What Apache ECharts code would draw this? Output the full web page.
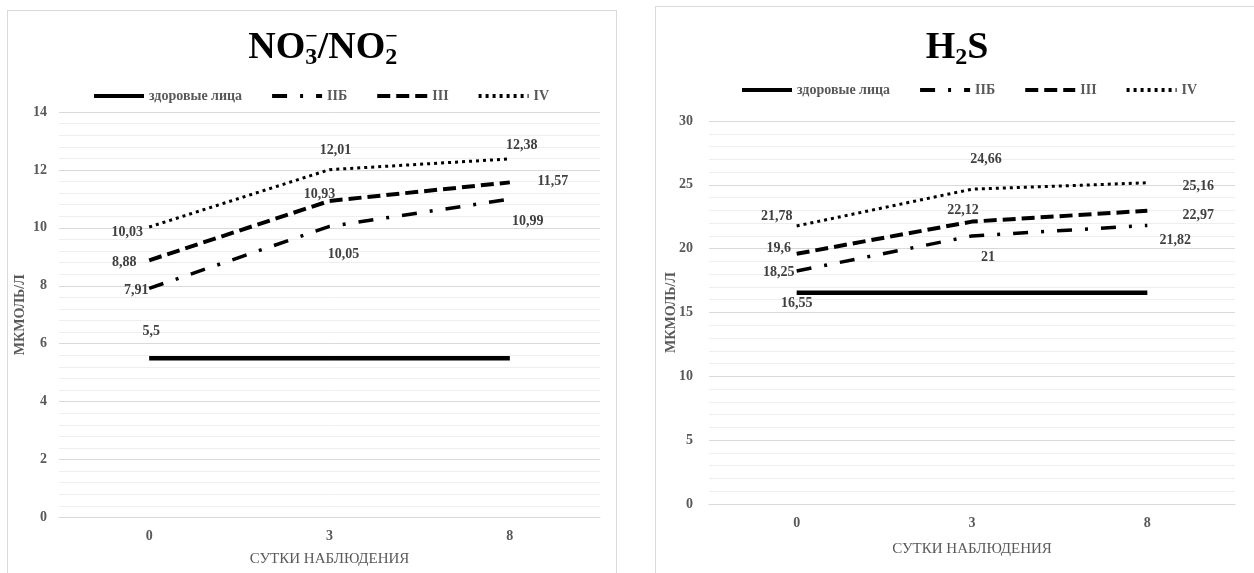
<!DOCTYPE html>
<html>
<head>
<meta charset="utf-8">
<script src="https://cdn.jsdelivr.net/npm/echarts@6/dist/echarts.min.js"></script>
<style>
  html, body { margin: 0; padding: 0; width: 1254px; height: 573px; overflow: hidden; background: #fff; }
  .panel { position: absolute; box-sizing: border-box; border: 1px solid #d9d9d9; background: #fff; }
  #c1 { left: 7px; top: 10px; width: 610px; height: 600px; }
  #c2 { left: 655px; top: 6px; width: 620px; height: 600px; }
</style>
</head>
<body>
<div id="c1" class="panel"></div>
<div id="c2" class="panel"></div>
<script>
// ---- data ----
const categories = ['0', '3', '8'];
const seriesNames = ['здоровые лица', 'IIБ', 'III', 'IV'];
const xAxisName = 'СУТКИ НАБЛЮДЕНИЯ';
const yAxisName = 'МКМОЛЬ/Л';

const noHealthy = [5.5, 5.5, 5.5];
const noIIB = [7.91, 10.05, 10.99];
const noIII = [8.88, 10.93, 11.57];
const noIV = [10.03, 12.01, 12.38];

const h2sHealthy = [16.55, 16.55, 16.55];
const h2sIIB = [18.25, 21, 21.82];
const h2sIII = [19.6, 22.12, 22.97];
const h2sIV = [21.78, 24.66, 25.16];

// ---- label placement (layout only) ----
const noLabelOffsets = [
  [[2, -27], null, null],
  [[-13, 2], [14, 28], [18, 22]],
  [[-25, 2], [-10, -7], [43, -1]],
  [[-22, 5], [6, -19], [12, -14]]
];
const h2sLabelOffsets = [
  [[0, 11], null, null],
  [[-18, 1], [16, 21], [28, 15]],
  [[-18, -5], [-9, -11], [51, 5]],
  [[-20, -10], [14, -30], [51, 4]]
];

const FONT = "'Liberation Serif', 'Times New Roman', serif";
const lineStyles = [
  { width: 4.5, type: 'solid' },
  { width: 3.5, type: [15, 13, 3, 13] },
  { width: 4, type: [13, 6] },
  { width: 3, type: [3, 4] }
];

function fmt(v) { return String(v).replace('.', ','); }

function buildSeries(valueSets, offsets) {
  return valueSets.map((vals, si) => ({
    name: seriesNames[si],
    type: 'line',
    symbol: 'circle',
    symbolSize: 1,
    itemStyle: { color: 'rgba(0,0,0,0)' },
    lineStyle: Object.assign({ color: '#000' }, lineStyles[si]),
    emphasis: { disabled: true },
    z: 2 + si,
    data: vals.map((v, i) => {
      const off = offsets[si][i];
      return {
        value: v,
        label: off ? {
          show: true, position: 'inside', offset: off,
          formatter: p => fmt(p.value),
          color: '#404040', fontFamily: FONT, fontWeight: 'bold', fontSize: 14
        } : { show: false }
      };
    })
  }));
}

function buildOption(cfg) {
  return {
    animation: false,
    title: {
      text: cfg.title,
      left: cfg.titleX,
      top: cfg.titleTop,
      textAlign: 'center',
      textStyle: {
        rich: {
          a: { fontFamily: FONT, fontWeight: 'bold', fontSize: 38, color: '#000', lineHeight: 44 },
          b: { fontFamily: FONT, fontWeight: 'bold', fontSize: 24, color: '#000', verticalAlign: 'bottom', lineHeight: 22 },
          c: { fontFamily: FONT, fontWeight: 'bold', fontSize: 22, color: '#000', verticalAlign: 'top', lineHeight: 16, padding: [0, 0, 0, -12] }
        }
      }
    },
    legend: {
      data: seriesNames,
      left: cfg.legendLeft,
      top: cfg.legendTop,
      itemWidth: 50,
      itemHeight: 4,
      itemGap: 28,
      selectedMode: false,
      lineStyle: { width: 4 },
      textStyle: { fontFamily: FONT, fontWeight: 'bold', fontSize: 14, color: '#595959' }
    },
    grid: Object.assign({ outerBoundsMode: 'none', containLabel: false }, cfg.grid),
    xAxis: {
      type: 'category',
      data: categories,
      boundaryGap: true,
      name: xAxisName,
      nameLocation: 'middle',
      nameGap: cfg.xNameGap,
      nameMoveOverlap: false,
      nameTextStyle: { fontFamily: FONT, fontSize: 15, color: '#595959' },
      axisLine: { lineStyle: { color: '#d9d9d9', width: 1 } },
      axisTick: { show: false },
      axisLabel: { margin: 12, fontFamily: FONT, fontWeight: 'bold', fontSize: 14, color: '#595959' }
    },
    yAxis: {
      type: 'value',
      min: 0,
      max: cfg.yMax,
      interval: cfg.yInterval,
      name: yAxisName,
      nameLocation: 'middle',
      nameGap: cfg.yNameGap,
      nameMoveOverlap: false,
      nameTextStyle: { fontFamily: FONT, fontWeight: 'bold', fontSize: 14, color: '#595959' },
      axisLine: { show: false },
      axisTick: { show: false },
      axisLabel: { margin: cfg.yLabelMargin, fontFamily: FONT, fontWeight: 'bold', fontSize: 14, color: '#595959' },
      splitLine: { lineStyle: { color: '#d9d9d9', width: 1 } },
      minorTick: { show: false, splitNumber: 5 },
      minorSplitLine: { show: true, lineStyle: { color: '#eeeeee', width: 1 } }
    },
    series: buildSeries(cfg.values, cfg.offsets)
  };
}

const chart1 = echarts.init(document.getElementById('c1'), null, { renderer: 'canvas' });
chart1.setOption(buildOption({
  title: '{a|NO}{b|3}{c|−}{a|/NO}{b|2}{c|−}',
  titleX: 310, titleTop: 10,
  legendLeft: 79, legendTop: 73,
  grid: { left: 51, top: 101, width: 541, height: 405.5 },
  xNameGap: 34, yNameGap: 32, yLabelMargin: 12,
  yMax: 14, yInterval: 2,
  values: [noHealthy, noIIB, noIII, noIV],
  offsets: noLabelOffsets
}));

const chart2 = echarts.init(document.getElementById('c2'), null, { renderer: 'canvas' });
chart2.setOption(buildOption({
  title: '{a|H}{b|2}{a|S}',
  titleX: 296, titleTop: 14,
  legendLeft: 79, legendTop: 71,
  grid: { left: 53, top: 114, width: 526, height: 383 },
  xNameGap: 38, yNameGap: 31, yLabelMargin: 16,
  yMax: 30, yInterval: 5,
  values: [h2sHealthy, h2sIIB, h2sIII, h2sIV],
  offsets: h2sLabelOffsets
}));
</script>
</body>
</html>
